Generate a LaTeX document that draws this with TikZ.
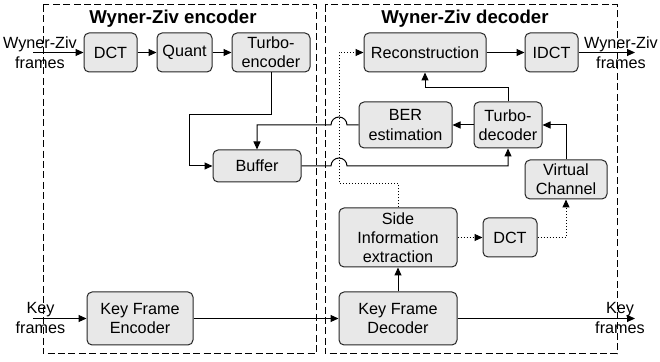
\documentclass[tikz,border=0pt]{standalone}
\usepackage{fontspec}
\setmainfont{Liberation Sans}
\usetikzlibrary{arrows.meta}

\begin{document}
\begin{tikzpicture}[x=0.5pt,y=-0.5pt,
  line width=0.5pt,
  blk/.style={draw=black!85, fill=black!9, rounded corners=2.5pt, align=center,
    inner sep=1pt, font=\fontsize{8.1}{9.6}\selectfont},
  lbl/.style={align=center, inner sep=0pt, font=\fontsize{8.1}{10}\selectfont},
  ttl/.style={font=\fontsize{9.3}{11}\selectfont\bfseries},
  frame/.style={dash pattern=on 3.5pt off 1.7pt, line width=0.5pt},
  arr/.style={-{Triangle[length=4pt,width=3.5pt]}},
  dots/.style={densely dotted}]

\useasboundingbox (0,0) rectangle (660,362);

% the two halves
\draw[frame] (43,5) rectangle (316,354);
\draw[frame] (325,5) rectangle (617,354);
\node[ttl] (enctitle) at (173,19) {Wyner-Ziv encoder};
\node[ttl] (dectitle) at (465,19) {Wyner-Ziv decoder};

% encoder blocks
\node[blk, minimum width=26.5pt, minimum height=19.5pt] (dct) at (110.5,52.5) {DCT};
\node[blk, minimum width=27.5pt, minimum height=19.5pt] (quant) at (184.5,52.5) {Quant};
\node[blk, minimum width=39pt, minimum height=19.5pt] (tenc) at (271,52.5) {Turbo-\\encoder};
\node[blk, minimum width=44pt, minimum height=16pt] (buf) at (257,166) {Buffer};
\node[blk, minimum width=53pt, minimum height=26.5pt] (kfe) at (140,318.5) {Key Frame\\Encoder};

% decoder blocks
\node[blk, minimum width=61pt, minimum height=19.5pt] (rec) at (425,52.5) {Reconstruction};
\node[blk, minimum width=26.5pt, minimum height=19.5pt] (idct) at (551.5,52.5) {IDCT};
\node[blk, minimum width=46.5pt, minimum height=23pt] (ber) at (405.5,125) {BER\\estimation};
\node[blk, minimum width=34pt, minimum height=23pt] (tdec) at (508,125) {Turbo-\\decoder};
\node[blk, minimum width=41pt, minimum height=19.5pt] (vc) at (566,179.5) {Virtual\\Channel};
\node[blk, minimum width=59pt, minimum height=29.5pt] (si) at (398,237.5) {Side\\Information\\extraction};
\node[blk, minimum width=27pt, minimum height=19.5pt] (dctb) at (510,237.5) {DCT};
\node[blk, minimum width=59pt, minimum height=26.5pt] (kfd) at (398,318.5) {Key Frame\\Decoder};

% inputs and outputs
\node[lbl] (wzin) at (40,53) {Wyner-Ziv\\frames};
\node[lbl] (wzout) at (621,53) {Wyner-Ziv\\frames};
\node[lbl] (keyin) at (40.5,318) {Key\\frames};
\node[lbl] (keyout) at (620,318) {Key\\frames};
\coordinate (wzsrc) at (33,52.5);
\coordinate (wzdst) at (635,52.5);
\coordinate (keysrc) at (33,318.5);
\coordinate (keydst) at (635,318.5);
\coordinate (bus) at (339,184);

% encoder chain
\draw[arr] (wzsrc) -- (dct);
\draw[arr] (dct) -- (quant);
\draw[arr] (quant) -- (tenc);
\draw[arr] (tenc.south) |- ++(-82,42) |- (buf.west);
\draw[arr] (keysrc) -- (kfe);
\draw[arr] (kfe) -- (kfd);

% feedback and parity bits (hopping over the dotted line)
\draw[arr] (ber.west) -- (347,125) arc[start angle=0, end angle=180, radius=4pt] -| (buf.north);
\draw[arr] (buf.east) -- (331,166) arc[start angle=180, end angle=0, radius=4pt] -| (tdec.south);

% decoder chain
\draw[arr] (tdec) -- (ber);
\draw[arr] (tdec.north) -- ++(0,-14) -| (rec.south);
\draw[arr] (vc.north) |- (tdec.east);
\draw[arr] (rec) -- (idct);
\draw[arr] (idct) -- (wzdst);
\draw[arr] (kfd) -- (si);
\draw[arr] (kfd) -- (keydst);

% side information
\draw[arr, dots] (si.north) |- (bus) |- (rec.west);
\draw[arr, dots] (si) -- (dctb);
\draw[arr, dots] (dctb.east) -| (vc.south);

\end{tikzpicture}
\end{document}
